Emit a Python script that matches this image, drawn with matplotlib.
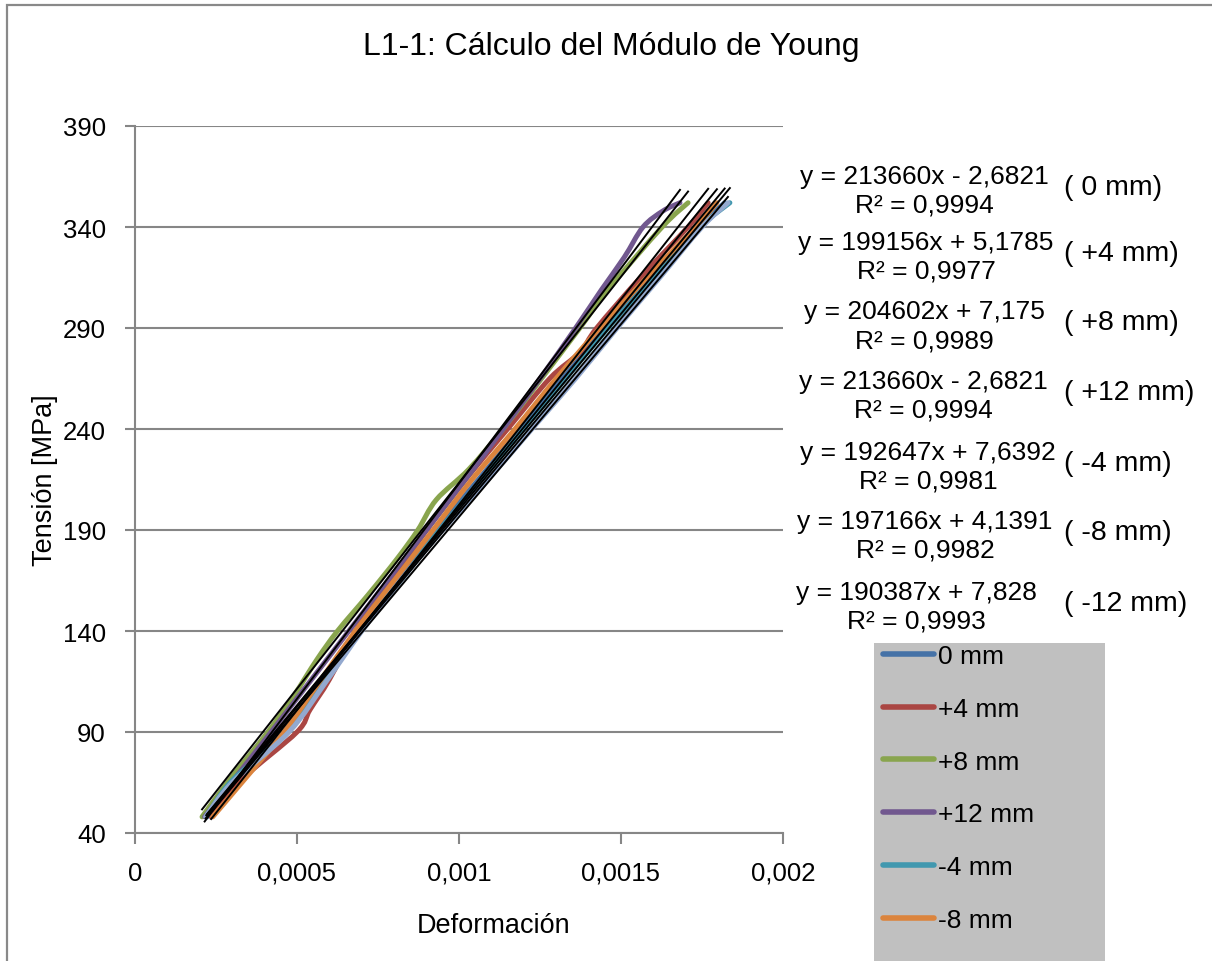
import numpy as np
import matplotlib
matplotlib.use("Agg")
import matplotlib.pyplot as plt
from matplotlib.patches import Rectangle, PathPatch
from matplotlib.path import Path
from matplotlib.lines import Line2D

plt.rcParams['font.family'] = ['Liberation Sans', 'DejaVu Sans']

# series: strain (x) and stress in MPa (y)
names = ['0 mm', '+4 mm', '+8 mm', '+12 mm', '-4 mm', '-8 mm', '-12 mm']
colors = ['#4572A7', '#AA4643', '#89A54E', '#71588F', '#4198AF', '#DB843D', '#93A9CF']

x_0 = [0.000222, 0.00030, 0.000465, 0.00058, 0.000685, 0.00081, 0.00093, 0.00106, 0.00119,
       0.00132, 0.00145, 0.00158, 0.00174, 0.00182]
y_0 = [48, 66, 90, 115, 140, 165, 190, 215, 240, 265, 290, 315, 340, 352]

x_p4 = [0.000235, 0.000333, 0.0005, 0.00054, 0.0006, 0.00068, 0.00079, 0.0009, 0.00102, 0.00115,
        0.00128, 0.001373, 0.001425, 0.00156, 0.001707, 0.001769]
y_p4 = [48, 67, 90, 101, 116, 140, 165, 190, 215, 240, 265, 278, 290, 315, 340, 352]

x_p8 = [0.000207, 0.00029, 0.00041, 0.00049, 0.000562, 0.000625, 0.00072, 0.00081, 0.000873,
        0.00093, 0.00103, 0.001136, 0.00125, 0.001373, 0.00146, 0.001627, 0.001707]
y_p8 = [48, 66, 90, 108, 126, 140, 158, 176, 190, 205, 220, 240, 264, 290, 309, 340, 352]

x_p12 = [0.000215, 0.00042, 0.00054, 0.00066, 0.00078, 0.0009, 0.00102, 0.001136, 0.00125,
         0.00136, 0.00144, 0.00151, 0.001568, 0.00163, 0.001682]
y_p12 = [48, 90, 115, 140, 165, 190, 215, 240, 265, 290, 309, 325, 340, 348, 352]

x_m4 = [0.00022, 0.0003, 0.00047, 0.00058, 0.00069, 0.00082, 0.00094, 0.00107, 0.0012,
        0.00133, 0.00146, 0.0016, 0.001744, 0.001836]
y_m4 = [48, 66, 90, 115, 140, 165, 190, 215, 240, 265, 290, 315, 340, 352]

x_m8 = [0.00024, 0.00033, 0.00046, 0.00057, 0.00068, 0.0008, 0.00092, 0.00104, 0.001173,
        0.0013, 0.001435, 0.00158, 0.00173, 0.001796]
y_m8 = [48, 65, 90, 115, 140, 165, 190, 215, 240, 265, 290, 315, 340, 352]

x_m12 = [0.000218, 0.0003, 0.000475, 0.00059, 0.0007, 0.00082, 0.00095, 0.00109, 0.001225,
         0.00136, 0.001488, 0.00162, 0.00175, 0.00183]
y_m12 = [48, 65, 90, 115, 140, 165, 190, 215, 240, 265, 290, 315, 340, 352]

xs = [x_0, x_p4, x_p8, x_p12, x_m4, x_m8, x_m12]
ys = [y_0, y_p4, y_p8, y_p12, y_m4, y_m8, y_m12]

# trendline labels as printed on the chart
eq_lines = ['y = 213660x - 2,6821', 'y = 199156x + 5,1785', 'y = 204602x + 7,175',
            'y = 213660x - 2,6821', 'y = 192647x + 7,6392', 'y = 197166x + 4,1391',
            'y = 190387x + 7,828']
r2_lines = ['R² = 0,9994', 'R² = 0,9977', 'R² = 0,9989', 'R² = 0,9994',
            'R² = 0,9981', 'R² = 0,9982', 'R² = 0,9993']
eq_tags = ['( 0 mm)', '( +4 mm)', '( +8 mm)', '( +12 mm)', '( -4 mm)', '( -8 mm)', '( -12 mm)']

xticks = [0, 0.0005, 0.001, 0.0015, 0.002]
xtick_labels = ['0', '0,0005', '0,001', '0,0015', '0,002']
yticks = [40, 90, 140, 190, 240, 290, 340, 390]


def smooth_path(x, y):
    # Excel-like smoothed line: Catmull-Rom segments as cubic beziers
    p = np.column_stack([x, y]).astype(float)
    pts = [p[0]]
    codes = [Path.MOVETO]
    n = len(p)
    for i in range(n - 1):
        p0 = p[i - 1] if i > 0 else p[i]
        p3 = p[i + 2] if i + 2 < n else p[i + 1]
        c1 = p[i] + (p[i + 1] - p0) / 6
        c2 = p[i + 1] - (p3 - p[i]) / 6
        pts += [c1, c2, p[i + 1]]
        codes += [Path.CURVE4] * 3
    return Path(pts, codes)


W, H = 1212, 962
fig = plt.figure(figsize=(W / 100, H / 100), dpi=100)
ax = fig.add_axes([135 / W, 1 - 834 / H, (783 - 135) / W, (834 - 127) / H])

grid_c = '#868686'
for i in range(len(names)):
    ax.add_patch(PathPatch(smooth_path(xs[i], ys[i]), facecolor='none', edgecolor=colors[i],
                           lw=3.6, capstyle='round', joinstyle='round', zorder=2))

# linear trendlines over each series' range
for i in range(len(names)):
    k, b = np.polyfit(xs[i], ys[i], 1)
    xx = np.array([min(xs[i]), max(xs[i])])
    ax.plot(xx, k * xx + b, color='black', lw=1.4, zorder=3)

ax.set_xlim(0, 0.002)
ax.set_ylim(40, 390)
ax.set_xticks(xticks)
ax.set_xticklabels(xtick_labels)
ax.set_yticks(yticks)
ax.grid(axis='y', color=grid_c, lw=1.5)
ax.set_axisbelow(True)
for s in ['top', 'right']:
    ax.spines[s].set_visible(False)
for s in ['left', 'bottom']:
    ax.spines[s].set_color(grid_c)
    ax.spines[s].set_linewidth(1.5)
ax.tick_params(axis='both', colors=grid_c, labelcolor='black', labelsize=18.5, width=1.5)
ax.tick_params(axis='x', length=8, pad=12)
ax.tick_params(axis='y', length=7, pad=14)

fig.text(611 / W, 1 - 47 / H, 'L1-1: Cálculo del Módulo de Young', fontsize=23,
         ha='center', va='center')
fig.text(45 / W, 1 - 480 / H, 'Tensión [MPa]', fontsize=19.5, rotation=90,
         ha='center', va='center')
fig.text(494 / W, 1 - 926 / H, 'Deformación', fontsize=19.5, ha='center', va='center')

# equation labels
eq_cx = [924, 926, 924, 923, 928, 925, 916]
eq_y1 = [177, 243, 312, 382, 453, 522, 593]
for i in range(len(eq_lines)):
    fig.text(eq_cx[i] / W, 1 - eq_y1[i] / H, eq_lines[i], fontsize=19, ha='center', va='center')
    fig.text(eq_cx[i] / W, 1 - (eq_y1[i] + 29) / H, r2_lines[i], fontsize=19,
             ha='center', va='center')
    fig.text(1064 / W, 1 - (eq_y1[i] + 11) / H, eq_tags[i], fontsize=20.5, ha='left', va='center')

# legend box (bottom cut off by the figure edge)
fig.patches.append(Rectangle((874 / W, -0.05), (1105 - 874) / W, 1 - 644 / H + 0.05,
                             transform=fig.transFigure, facecolor='#C0C0C0',
                             edgecolor='none', zorder=0))
handles = [Line2D([], [], color=colors[i], lw=4, solid_capstyle='round') for i in range(6)]
leg = fig.legend(handles, names[:6], loc='upper left',
                 bbox_to_anchor=(883 / W, 1 - 645 / H), frameon=False, fontsize=19,
                 handlelength=1.95, handletextpad=0.15, labelspacing=1.09, borderpad=0,
                 borderaxespad=0)

# outer chart border (only left and top visible)
fig.patches.append(Rectangle((7 / W, -0.1), 1.2, 1 - 6 / H + 0.1, transform=fig.transFigure,
                             facecolor='none', edgecolor='#898989', lw=1.6, zorder=5))

fig.savefig('out.png', dpi=100)
